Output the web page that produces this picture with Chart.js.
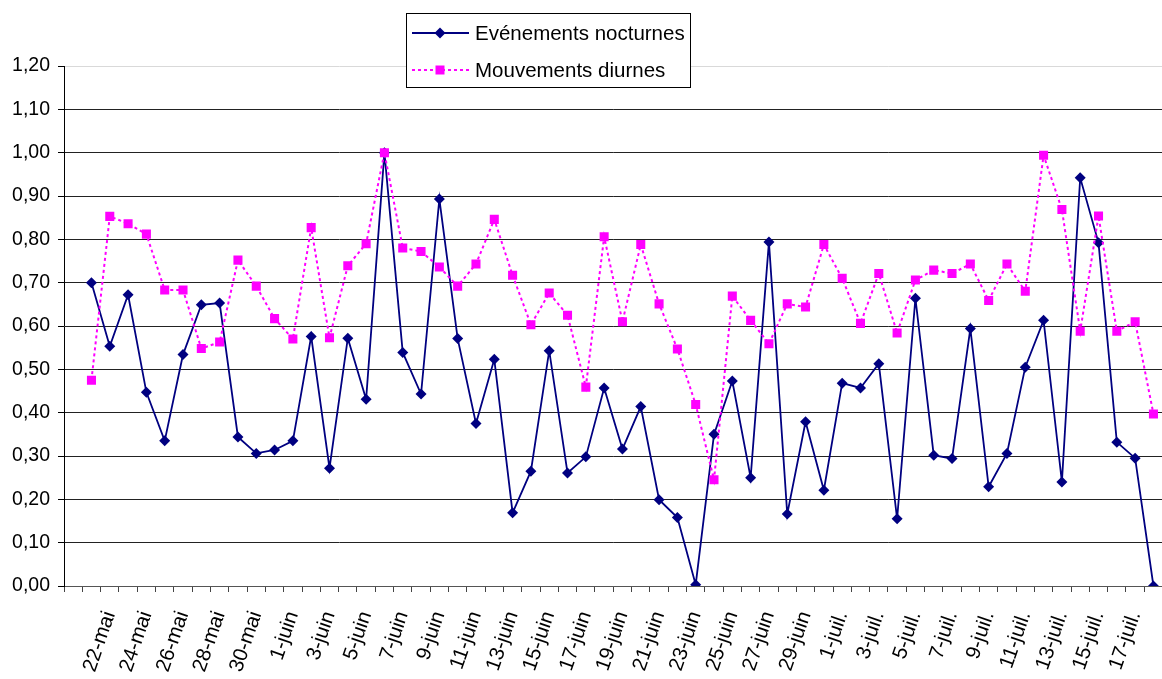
<!DOCTYPE html>
<html lang="fr">
<head>
<meta charset="UTF-8">
<title>Evénements nocturnes / Mouvements diurnes</title>
<script src="https://cdn.jsdelivr.net/npm/chart.js"></script>
<style>
    html, body {
        margin: 0;
        padding: 0;
        background: #fff;
        overflow: hidden;
    }
    #wrap {
        position: relative;
        width: 1169px;
        height: 679px;
    }
</style>
</head>
<body>
<div id="wrap">
    <canvas id="graph"></canvas>
</div>

<script>
    // jours (la première case reste vide, comme sur l'axe d'origine)
    const jours = ['',
        '21-mai', '22-mai', '23-mai', '24-mai', '25-mai', '26-mai', '27-mai', '28-mai', '29-mai', '30-mai', '31-mai',
        '1-juin', '2-juin', '3-juin', '4-juin', '5-juin', '6-juin', '7-juin', '8-juin', '9-juin', '10-juin',
        '11-juin', '12-juin', '13-juin', '14-juin', '15-juin', '16-juin', '17-juin', '18-juin', '19-juin', '20-juin',
        '21-juin', '22-juin', '23-juin', '24-juin', '25-juin', '26-juin', '27-juin', '28-juin', '29-juin', '30-juin',
        '1-juil.', '2-juil.', '3-juil.', '4-juil.', '5-juil.', '6-juil.', '7-juil.', '8-juil.', '9-juil.', '10-juil.',
        '11-juil.', '12-juil.', '13-juil.', '14-juil.', '15-juil.', '16-juil.', '17-juil.', '18-juil.'];

    const nocturnes = [null,
        0.700, 0.553, 0.672, 0.447, 0.335, 0.534, 0.649, 0.653, 0.344, 0.306, 0.314,
        0.335, 0.576, 0.272, 0.572, 0.431, 1.000, 0.539, 0.443, 0.893, 0.571,
        0.375, 0.523, 0.169, 0.265, 0.543, 0.261, 0.298, 0.457, 0.316, 0.414,
        0.199, 0.158, 0.003, 0.350, 0.473, 0.250, 0.794, 0.166, 0.379, 0.221,
        0.468, 0.457, 0.513, 0.155, 0.664, 0.302, 0.294, 0.594, 0.229, 0.306,
        0.505, 0.613, 0.240, 0.942, 0.792, 0.332, 0.295, 0.000];

    const diurnes = [null,
        0.475, 0.853, 0.836, 0.812, 0.683, 0.683, 0.548, 0.563, 0.752, 0.692, 0.617,
        0.570, 0.827, 0.573, 0.739, 0.790, 1.000, 0.780, 0.772, 0.736, 0.692,
        0.743, 0.846, 0.717, 0.603, 0.676, 0.625, 0.459, 0.806, 0.610, 0.788,
        0.651, 0.547, 0.419, 0.245, 0.669, 0.613, 0.559, 0.651, 0.644, 0.788,
        0.710, 0.606, 0.721, 0.584, 0.706, 0.729, 0.721, 0.743, 0.659, 0.743,
        0.680, 0.994, 0.869, 0.588, 0.854, 0.588, 0.610, 0.397];

    const NAVY = '#000080';
    const MAGENTA = '#ff00ff';
    const POLICE = "'Liberation Sans', Arial, sans-serif";

    // légende encadrée dessinée à la main (trait + marqueur)
    const legendeBoite = {
        id: 'legendeBoite',
        afterDraw(chart) {
            const ctx = chart.ctx;
            const x0 = 406, y0 = 13, w = 284, h = 74;
            ctx.save();
            ctx.fillStyle = '#fff';
            ctx.fillRect(x0, y0, w, h);
            ctx.strokeStyle = '#000';
            ctx.lineWidth = 1;
            ctx.strokeRect(x0 + 0.5, y0 + 0.5, w, h);

            const rows = [
                { label: 'Evénements nocturnes', y: 33, color: NAVY, dash: [], lw: 1.8, marker: 'diamond' },
                { label: 'Mouvements diurnes', y: 70, color: MAGENTA, dash: [3, 3], lw: 2, marker: 'square' }
            ];
            rows.forEach(r => {
                ctx.strokeStyle = r.color;
                ctx.lineWidth = r.lw;
                ctx.setLineDash(r.dash);
                ctx.beginPath();
                ctx.moveTo(412, r.y);
                ctx.lineTo(469, r.y);
                ctx.stroke();
                ctx.setLineDash([]);
                ctx.fillStyle = r.color;
                ctx.beginPath();
                if (r.marker === 'diamond') {
                    ctx.moveTo(440, r.y - 5.5);
                    ctx.lineTo(445.5, r.y);
                    ctx.lineTo(440, r.y + 5.5);
                    ctx.lineTo(434.5, r.y);
                    ctx.closePath();
                } else {
                    ctx.rect(435.5, r.y - 4.5, 9, 9);
                }
                ctx.fill();
                ctx.fillStyle = '#000';
                ctx.font = '20.5px ' + POLICE;
                ctx.textBaseline = 'middle';
                ctx.textAlign = 'left';
                ctx.fillText(r.label, 475, r.y + 1);
            });
            ctx.restore();
        }
    };

    function virgule(v) {
        return v.toFixed(2).replace('.', ',');
    }

    new Chart(document.getElementById('graph'), {
        type: 'line',
        data: {
            labels: jours,
            datasets: [{
                label: 'Evénements nocturnes',
                data: nocturnes,
                borderColor: NAVY,
                backgroundColor: NAVY,
                borderWidth: 1.8,
                pointStyle: 'rectRot',
                pointRadius: 5.5,
                pointBorderWidth: 0,
                tension: 0,
                order: 2
            }, {
                label: 'Mouvements diurnes',
                data: diurnes,
                borderColor: MAGENTA,
                backgroundColor: MAGENTA,
                borderWidth: 2,
                borderDash: [3, 3],
                pointStyle: 'rect',
                pointRadius: 6.4,
                pointBorderWidth: 0,
                tension: 0,
                order: 1
            }]
        },
        options: {
            responsive: true,
            maintainAspectRatio: false,
            animation: false,
            layout: { padding: { top: 66, right: 1, left: 0, bottom: 0 } },
            plugins: {
                legend: { display: false },
                tooltip: { enabled: false }
            },
            scales: {
                x: {
                    offset: true,
                    grid: {
                        offset: true,
                        drawOnChartArea: false,
                        tickLength: 6,
                        tickColor: '#444'
                    },
                    border: { color: '#555', width: 1 },
                    ticks: {
                        autoSkip: false,
                        minRotation: 71,
                        maxRotation: 71,
                        padding: 16,
                        color: '#000',
                        font: { family: POLICE, size: 20.5 },
                        callback: function (v, i) {
                            return i % 2 === 0 ? jours[i] : '';
                        }
                    },
                    afterFit(s) {
                        s.height = 93;
                        s.paddingLeft = 0;
                        s.paddingRight = 0;
                    }
                },
                y: {
                    min: 0,
                    max: 1.2,
                    grid: {
                        color: c => (c.tick && c.tick.value > 1.15) ? '#d9d9d9' : (c.tick && c.tick.value === 0 ? '#666' : '#222'),
                        tickColor: '#000',
                        tickLength: 6,
                        lineWidth: 1
                    },
                    border: { color: '#000', width: 1 },
                    ticks: {
                        stepSize: 0.1,
                        padding: 8,
                        color: '#000',
                        font: { family: POLICE, size: 19.5 },
                        callback: v => virgule(v)
                    },
                    afterFit(s) {
                        s.width = 64;
                        s.paddingTop = 0;
                        s.paddingBottom = 0;
                    }
                }
            }
        },
        plugins: [legendeBoite]
    });
</script>
</body>
</html>
